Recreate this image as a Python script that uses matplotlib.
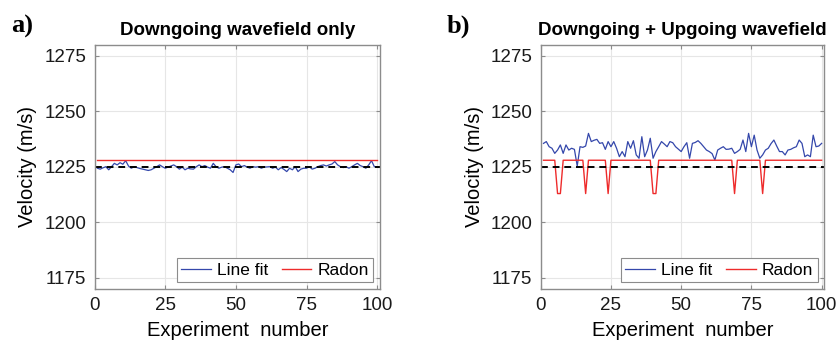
import numpy as np
import matplotlib
matplotlib.use('Agg')
import matplotlib.pyplot as plt

# experiment index 1..100
experiment = np.arange(1, 101)

# panel a) line fit velocities (m/s)
linefit_down = [
    1224.4, 1224.0, 1224.6, 1225.1, 1223.7, 1225.1, 1226.6, 1225.9, 1226.9, 1226.2,
    1227.8, 1225.4, 1224.4, 1225.1, 1224.7, 1224.3, 1224.0, 1223.7, 1223.4, 1223.7,
    1224.4, 1225.1, 1225.9, 1225.1, 1224.4, 1224.9, 1225.4, 1225.9, 1225.1, 1224.0,
    1224.9, 1223.7, 1224.4, 1224.1, 1224.0, 1225.1, 1225.9, 1225.1, 1225.6, 1224.9,
    1224.4, 1226.6, 1225.1, 1224.4, 1224.9, 1225.1, 1224.4, 1223.7, 1222.5, 1225.9,
    1226.3, 1225.1, 1225.6, 1224.9, 1224.4, 1225.1, 1224.9, 1225.1, 1224.4, 1224.9,
    1225.0, 1225.1, 1224.4, 1224.9, 1223.7, 1224.7, 1223.9, 1222.9, 1224.4, 1223.7,
    1225.1, 1222.9, 1224.0, 1224.4, 1224.4, 1225.1, 1224.0, 1224.4, 1225.1, 1225.6,
    1225.9, 1225.4, 1225.9, 1226.3, 1227.4, 1225.9, 1225.1, 1224.7, 1225.1, 1224.4,
    1225.1, 1225.9, 1226.6, 1225.6, 1225.1, 1224.4, 1225.9, 1227.8, 1225.1, 1224.9]
radon_down = [1228] * 100

# panel b) line fit velocities (m/s)
linefit_both = [
    1235.6, 1236.4, 1234.1, 1233.4, 1231.1, 1232.6, 1234.9, 1231.1, 1234.9, 1232.6,
    1233.4, 1232.9, 1225.4, 1234.1, 1233.8, 1234.4, 1240.1, 1236.4, 1237.0, 1237.4,
    1235.6, 1235.9, 1232.9, 1236.4, 1234.1, 1236.4, 1233.4, 1229.6, 1231.9, 1229.6,
    1236.4, 1233.4, 1236.8, 1230.4, 1228.9, 1238.6, 1229.6, 1232.6, 1237.9, 1228.9,
    1231.9, 1234.1, 1236.4, 1235.3, 1234.1, 1236.4, 1235.9, 1234.1, 1233.0, 1231.9,
    1234.1, 1235.9, 1228.9, 1235.6, 1236.0, 1236.8, 1235.6, 1234.1, 1232.6, 1231.9,
    1231.0, 1228.1, 1232.6, 1233.4, 1234.1, 1232.9, 1233.0, 1233.4, 1231.1, 1231.9,
    1232.9, 1237.1, 1231.9, 1240.1, 1234.1, 1239.3, 1232.6, 1228.9, 1230.4, 1232.6,
    1233.4, 1235.5, 1237.1, 1234.4, 1231.9, 1231.9, 1230.4, 1232.6, 1232.9, 1233.6,
    1234.1, 1237.1, 1235.6, 1229.6, 1230.4, 1229.6, 1239.3, 1234.1, 1234.4, 1235.6]
radon_both = [1228] * 100
radon_dips = [6, 7, 16, 24, 40, 41, 69, 79]   # experiments where Radon drops
for k in radon_dips:
    radon_both[k - 1] = 1213

true_velocity = 1225

panels = [
    ('a)', 'Downgoing wavefield only', linefit_down, radon_down),
    ('b)', 'Downgoing + Upgoing wavefield', linefit_both, radon_both),
]

plt.rcParams['font.family'] = ['Liberation Sans', 'DejaVu Sans']

fig = plt.figure(figsize=(8.37, 3.47), dpi=100)
positions = [[0.113, 0.167, 0.341, 0.704], [0.646, 0.167, 0.339, 0.704]]
letter_x = [0.013, 0.533]

for pos, lx, (letter, title, lf, rd) in zip(positions, letter_x, panels):
    ax = fig.add_axes(pos)
    ax.plot(experiment, lf, color='#3447ab', lw=0.9, label='Line fit')
    ax.plot(experiment, rd, color='#ee2b2b', lw=1.0, label='Radon')
    ax.axhline(true_velocity, color='black', lw=1.4, ls=(0, (3.5, 2.5)))
    ax.set_xlim(0, 101)
    ax.set_ylim(1170, 1280)
    ax.set_xticks([0, 25, 50, 75, 100])
    ax.set_yticks([1175, 1200, 1225, 1250, 1275])
    ax.grid(True, color='#e6e6e6', lw=0.8)
    ax.set_axisbelow(True)
    for s in ax.spines.values():
        s.set_color('#8c8c8c')
        s.set_linewidth(1.0)
    ax.tick_params(direction='in', length=3, top=True, right=True,
                   color='#8c8c8c', labelsize=13.5, labelcolor='#1a1a1a', pad=6)
    ax.set_xlabel('Experiment  number', fontsize=14.5, labelpad=5)
    ax.set_ylabel('Velocity (m/s)', fontsize=14.5, labelpad=5)
    ax.set_title(title, fontsize=13.5, fontweight='bold', pad=7)
    leg = ax.legend(loc='lower right', ncol=2, fontsize=12.5, handlelength=1.7,
                    handletextpad=0.35, columnspacing=0.8, borderpad=0.25,
                    borderaxespad=0.4, fancybox=False, framealpha=1)
    leg.get_frame().set_edgecolor('#8c8c8c')
    leg.get_frame().set_linewidth(0.8)
    fig.text(lx, 0.905, letter, fontsize=19, fontweight='bold',
             family='Liberation Serif')

fig.savefig('out.png', dpi=100)
